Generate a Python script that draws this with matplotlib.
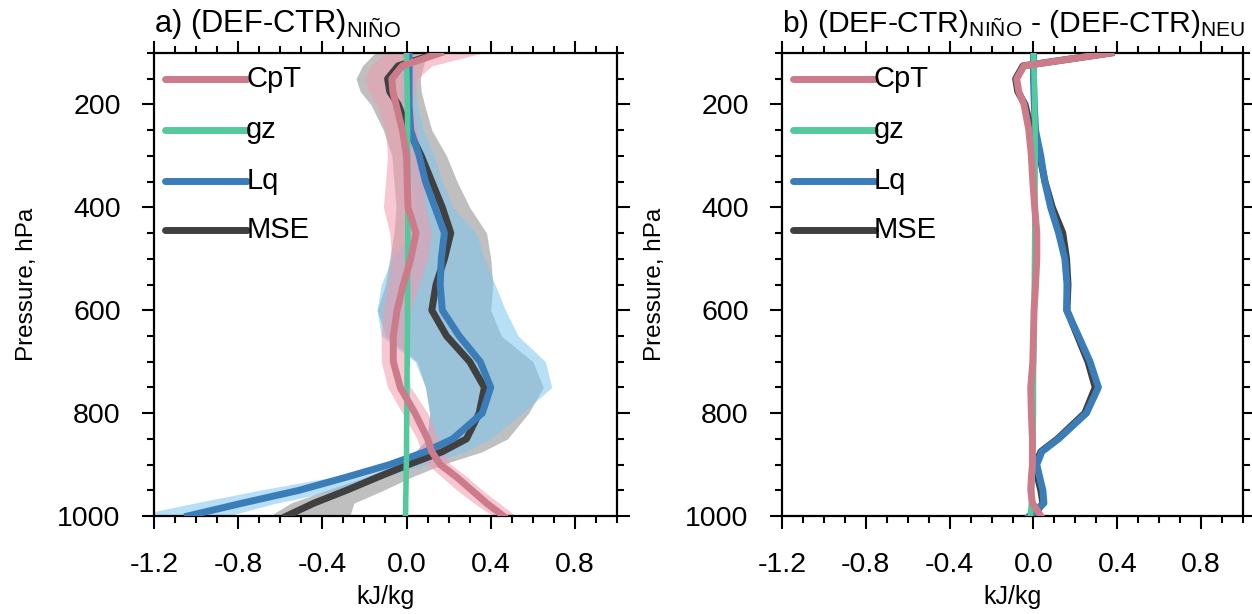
import matplotlib
matplotlib.use('Agg')
import matplotlib.pyplot as plt
from matplotlib.ticker import MultipleLocator, FixedLocator

plt.rcParams['font.family'] = ['Liberation Sans', 'DejaVu Sans']
plt.rcParams['mathtext.fontset'] = 'custom'
plt.rcParams['mathtext.rm'] = 'Liberation Sans'
plt.rcParams['mathtext.it'] = 'Liberation Sans:italic'
plt.rcParams['mathtext.bf'] = 'Liberation Sans:bold'

# ---------------- data ----------------
levels = [100, 125, 150, 175, 200, 250, 300, 350, 400, 450, 500, 550,
          600, 650, 700, 750, 800, 850, 875, 900, 925, 950, 975, 1000]

series_names = ['CpT', 'gz', 'Lq', 'MSE']

# panel a: (DEF-CTR) Nino
cpt_a = [0.16, -0.02, -0.07, -0.065, -0.05, -0.02, 0.0, 0.003, 0.007, 0.045, 0.02, -0.015,
         -0.045, -0.063, -0.063, -0.03, 0.04, 0.10, 0.12, 0.16, 0.24, 0.31, 0.38, 0.46]
gz_a = [0.0, 0.0, 0.002, 0.003, 0.004, 0.005, 0.006, 0.006, 0.006, 0.006, 0.006, 0.005,
        0.005, 0.004, 0.003, 0.002, 0.001, 0.0, 0.0, -0.001, -0.002, -0.003, -0.004, -0.005]
lq_a = [0.012, 0.012, 0.012, 0.012, 0.012, 0.02, 0.06, 0.09, 0.135, 0.18, 0.165, 0.16,
        0.17, 0.25, 0.35, 0.40, 0.36, 0.22, 0.09, -0.08, -0.29, -0.51, -0.78, -1.04]
mse_a = [0.15, -0.04, -0.09, -0.08, -0.04, 0.01, 0.07, 0.12, 0.17, 0.21, 0.18, 0.14,
         0.12, 0.19, 0.30, 0.37, 0.345, 0.285, 0.17, 0.01, -0.14, -0.285, -0.44, -0.57]

# spread bands (panel a)
mse_lo_a = [-0.15, -0.21, -0.24, -0.22, -0.17, -0.11, -0.07, -0.06, -0.05, -0.06, -0.08, -0.10,
            -0.14, -0.10, 0.05, 0.09, 0.11, 0.10, 0.04, -0.05, -0.20, -0.38, -0.55, -0.65]
mse_hi_a = [0.10, 0.08, 0.065, 0.07, 0.085, 0.12, 0.19, 0.24, 0.30, 0.38, 0.40, 0.41,
            0.40, 0.45, 0.60, 0.65, 0.58, 0.48, 0.36, 0.17, 0.02, -0.11, -0.25, -0.27]
lq_lo_a = [-0.02, -0.02, -0.03, -0.03, -0.03, -0.02, 0.0, 0.02, 0.04, 0.03, -0.07, -0.12,
           -0.14, -0.12, 0.04, 0.09, 0.11, 0.095, 0.05, -0.11, -0.36, -0.70, -1.01, -1.30]
lq_hi_a = [0.03, 0.035, 0.04, 0.045, 0.05, 0.08, 0.13, 0.17, 0.22, 0.33, 0.37, 0.42,
           0.47, 0.53, 0.66, 0.69, 0.55, 0.40, 0.28, 0.09, -0.11, -0.33, -0.62, -0.85]
cpt_lo_a = [-0.10, -0.17, -0.20, -0.18, -0.14, -0.10, -0.09, -0.10, -0.11, -0.08, -0.07, -0.09,
            -0.11, -0.12, -0.12, -0.09, -0.02, 0.05, 0.07, 0.10, 0.17, 0.24, 0.32, 0.41]
cpt_hi_a = [0.36, 0.12, 0.05, 0.04, 0.03, 0.05, 0.07, 0.08, 0.09, 0.12, 0.10, 0.06,
            0.02, 0.0, -0.01, 0.02, 0.10, 0.15, 0.17, 0.21, 0.29, 0.36, 0.44, 0.52]

# panel b: (DEF-CTR) Nino - (DEF-CTR) Neutral
cpt_b = [0.37, -0.045, -0.08, -0.07, -0.045, -0.022, -0.01, -0.003, 0.006, 0.016, 0.016, 0.01,
         0.003, 0.0, -0.003, -0.013, -0.01, -0.005, -0.005, -0.005, -0.01, -0.013, -0.005, 0.035]
gz_b = [0.0, 0.002, 0.004, 0.005, 0.006, 0.008, 0.008, 0.008, 0.007, 0.006, 0.005, 0.004,
        0.003, 0.002, 0.001, 0.0, 0.0, -0.002, -0.003, -0.004, -0.006, -0.008, -0.01, -0.015]
lq_b = [0.0, 0.0, 0.0, 0.002, 0.004, 0.01, 0.035, 0.054, 0.082, 0.12, 0.15, 0.16,
        0.158, 0.215, 0.27, 0.31, 0.253, 0.12, 0.04, 0.016, 0.03, 0.045, 0.05, -0.02]
mse_b = [0.37, -0.05, -0.085, -0.075, -0.04, -0.01, 0.03, 0.055, 0.09, 0.14, 0.158, 0.165,
         0.16, 0.21, 0.26, 0.295, 0.245, 0.115, 0.035, 0.01, 0.02, 0.035, 0.045, 0.0]

xticks = [-1.2, -0.8, -0.4, 0.0, 0.4, 0.8]
yticks = [200, 400, 600, 800, 1000]

colors = {'CpT': '#cc7b8b', 'gz': '#55c99e', 'Lq': '#3a7db9', 'MSE': '#404040'}
band_colors = {'MSE': ('#8c8c8c', 0.55), 'Lq': ('#7cc6f0', 0.55), 'CpT': ('#f29aae', 0.55)}

# ---------------- figure ----------------
fig = plt.figure(figsize=(12.52, 6.14), dpi=100)
axa = fig.add_axes([154 / 1252, 98 / 614, 463 / 1252, 463 / 614])
axb = fig.add_axes([782 / 1252, 98 / 614, 461 / 1252, 463 / 614])

LW = 5.0


def style(ax, title, title_size):
    ax.set_xlim(-1.2, 1.0)
    ax.set_ylim(1000, 100)
    ax.xaxis.set_major_locator(FixedLocator(xticks))
    ax.xaxis.set_minor_locator(MultipleLocator(0.1))
    ax.yaxis.set_major_locator(FixedLocator(yticks))
    ax.yaxis.set_minor_locator(MultipleLocator(50))
    ax.set_xticklabels(['%.1f' % v for v in xticks])
    ax.set_yticklabels([str(v) for v in yticks])
    ax.tick_params(which='both', direction='out', top=True, right=True, width=1.5,
                   labelsize=20.5, colors='black')
    ax.tick_params(axis='x', which='major', length=9, pad=17)
    ax.tick_params(axis='y', which='major', length=9, pad=15)
    ax.tick_params(which='minor', length=5)
    for s in ax.spines.values():
        s.set_linewidth(1.6)
    ax.set_xlabel('kJ/kg', fontsize=18, labelpad=5)
    ax.set_ylabel('Pressure, hPa', fontsize=17.5, labelpad=14)
    ax.text(0.0, 1.045, title, transform=ax.transAxes, fontsize=title_size,
            ha='left', va='baseline', clip_on=False)
    # legend
    ys = [0.944, 0.834, 0.7236, 0.6177]
    for name, yy in zip(series_names, ys):
        ax.plot([0.024, 0.201], [yy, yy], transform=ax.transAxes, color=colors[name],
                lw=LW, solid_capstyle='round', zorder=6)
        ax.text(0.199, yy, name, transform=ax.transAxes, fontsize=21, ha='left',
                va='center', zorder=6)


# panel a
axa.fill_betweenx(levels, mse_lo_a, mse_hi_a, color=band_colors['MSE'][0],
                  alpha=band_colors['MSE'][1], lw=0, zorder=1)
axa.fill_betweenx(levels, lq_lo_a, lq_hi_a, color=band_colors['Lq'][0],
                  alpha=band_colors['Lq'][1], lw=0, zorder=1.1)
axa.fill_betweenx(levels, cpt_lo_a, cpt_hi_a, color=band_colors['CpT'][0],
                  alpha=band_colors['CpT'][1], lw=0, zorder=1.2)
axa.plot(mse_a, levels, color=colors['MSE'], lw=LW, zorder=3)
axa.plot(lq_a, levels, color=colors['Lq'], lw=LW, zorder=3.1)
axa.plot(gz_a, levels, color=colors['gz'], lw=LW * 0.8, zorder=3.2)
axa.plot(cpt_a, levels, color=colors['CpT'], lw=LW, zorder=3.3)
style(axa, r'a) (DEF-CTR)$_\mathregular{NIÑO}$', 22.2)

# panel b
axb.plot(mse_b, levels, color=colors['MSE'], lw=LW, zorder=3)
axb.plot(lq_b, levels, color=colors['Lq'], lw=LW, zorder=3.1)
axb.plot(gz_b, levels, color=colors['gz'], lw=LW * 0.8, zorder=3.2)
axb.plot(cpt_b, levels, color=colors['CpT'], lw=LW, zorder=3.3)
style(axb, r'b) (DEF-CTR)$_\mathregular{NIÑO}$ - (DEF-CTR)$_\mathregular{NEU}$', 21.6)

fig.savefig('out.png', dpi=100)
